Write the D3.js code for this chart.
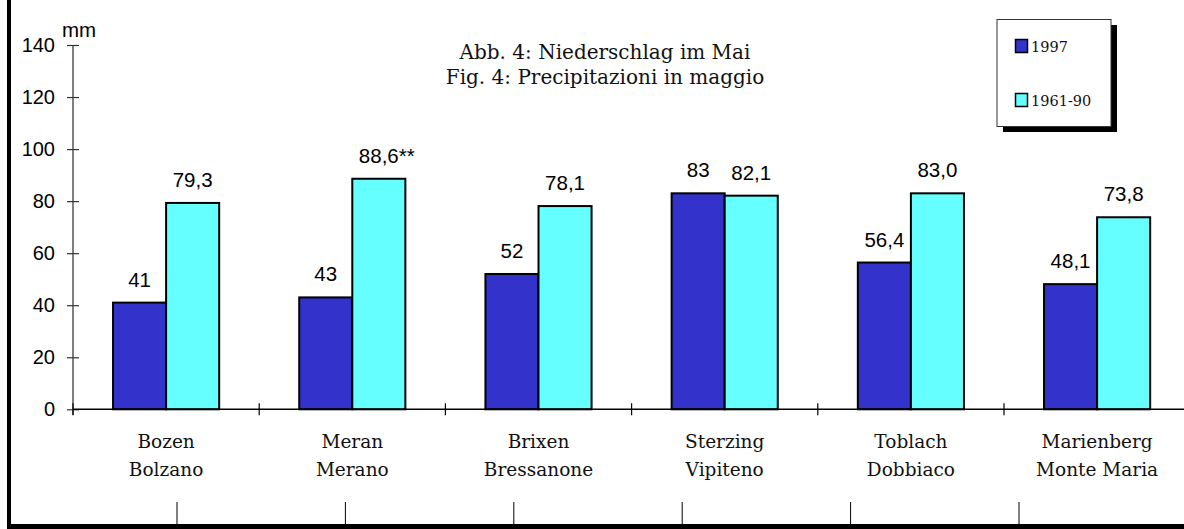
<!DOCTYPE html>
<html>
<head>
<meta charset="utf-8">
<script src="https://cdn.jsdelivr.net/npm/d3@7"></script>
<style>
  body { margin: 0; background: #fff; }
  svg { display: block; }
</style>
</head>
<body>
<svg id="chart"></svg>
<script>
// stations (German / Italian names)
var stationsDe = ["Bozen", "Meran", "Brixen", "Sterzing", "Toblach", "Marienberg"];
var stationsIt = ["Bolzano", "Merano", "Bressanone", "Vipiteno", "Dobbiaco", "Monte Maria"];
var seriesNames = ["1997", "1961-90"];
var values1997 = [41, 43, 52, 83, 56.4, 48.1];
var values6190 = [79.3, 88.6, 78.1, 82.1, 83.0, 73.8];
var labels1997 = ["41", "43", "52", "83", "56,4", "48,1"];
var labels6190 = ["79,3", "88,6", "78,1", "82,1", "83,0", "73,8"];
var notes6190 = ["", "**", "", "", "", ""];
var yTicks = [0, 20, 40, 60, 80, 100, 120, 140];
var titleLines = ["Abb. 4: Niederschlag im Mai", "Fig. 4: Precipitazioni in maggio"];

var width = 1184, height = 529;
var colors = ["#3333cc", "#66ffff"];
var serif = "'DejaVu Serif', serif";
var sans = "'Liberation Sans', Arial, sans-serif";

var svg = d3.select("#chart").attr("width", width).attr("height", height);

var x0 = 73, y0 = 409.3;
var step = 186.2;

var xScale = d3.scaleBand()
    .domain(stationsDe)
    .range([x0, x0 + step * stationsDe.length])
    .paddingInner(0.43)
    .paddingOuter(0.215);
var xSub = d3.scaleBand().domain(seriesNames).range([0, xScale.bandwidth()]);
var yScale = d3.scaleLinear().domain([0, 140]).range([y0, 45]);

// frame
svg.append("rect").attr("x", 7).attr("y", 0).attr("width", 4).attr("height", height).attr("fill", "#000");
svg.append("rect").attr("x", 7).attr("y", 524).attr("width", width).attr("height", 5).attr("fill", "#000");

// bottom separator lines
d3.range(6).forEach(function(i) {
  svg.append("line")
    .attr("x1", 177 + i * 168.4).attr("x2", 177 + i * 168.4)
    .attr("y1", 502).attr("y2", 524)
    .attr("stroke", "#000").attr("stroke-width", 1);
});

// bars
var rows = stationsDe.map(function(s, i) {
  return {
    station: s,
    bars: [
      { key: seriesNames[0], value: values1997[i], label: labels1997[i], note: "" },
      { key: seriesNames[1], value: values6190[i], label: labels6190[i], note: notes6190[i] }
    ]
  };
});

var groups = svg.append("g").selectAll("g")
  .data(rows).enter().append("g")
  .attr("transform", function(d) { return "translate(" + xScale(d.station) + ",0)"; });

groups.selectAll("rect")
  .data(function(d) { return d.bars; })
  .enter().append("rect")
  .attr("x", function(d) { return xSub(d.key); })
  .attr("y", function(d) { return yScale(d.value); })
  .attr("width", xSub.bandwidth())
  .attr("height", function(d) { return y0 - yScale(d.value); })
  .attr("fill", function(d, i) { return colors[i]; })
  .attr("stroke", "#000")
  .attr("stroke-width", 2);

groups.selectAll("text.val")
  .data(function(d) { return d.bars; })
  .enter().append("text")
  .attr("class", "val")
  .attr("x", function(d) { return xSub(d.key) + xSub.bandwidth() / 2; })
  .attr("y", function(d) { return yScale(d.value) - 16; })
  .attr("text-anchor", "middle")
  .style("font-family", sans)
  .style("font-size", "20.5px")
  .text(function(d) { return d.label; })
  .each(function(d) {
    if (d.note) {
      var w = this.getComputedTextLength();
      d3.select(this.parentNode).append("text")
        .attr("x", xSub(d.key) + xSub.bandwidth() / 2 + w / 2)
        .attr("y", yScale(d.value) - 16)
        .style("font-family", sans)
        .style("font-size", "20.5px")
        .text(d.note);
    }
  });

// y axis
var yAxis = svg.append("g")
  .attr("transform", "translate(" + x0 + ",0)")
  .call(d3.axisLeft(yScale).tickValues(yTicks).tickSize(6).tickSizeOuter(0).tickPadding(12));
yAxis.select(".domain").attr("d", "M0,45V415").attr("stroke", "#555").attr("stroke-width", 1.5);
yAxis.selectAll(".tick line").attr("x1", -6).attr("x2", 6).attr("stroke", "#333").attr("stroke-width", 1.2);
yAxis.selectAll(".tick text")
  .style("font-family", sans).style("font-size", "20px").attr("fill", "#000");

svg.append("text").attr("x", 62).attr("y", 37)
  .style("font-family", sans).style("font-size", "20.5px").text("mm");

// x axis
var xTickPos = d3.range(stationsDe.length + 1).map(function(i) { return x0 + i * step; });
svg.append("line").attr("x1", x0).attr("x2", width).attr("y1", y0).attr("y2", y0)
  .attr("stroke", "#000").attr("stroke-width", 1.5);
xTickPos.forEach(function(p) {
  svg.append("line").attr("x1", p).attr("x2", p).attr("y1", y0 - 6).attr("y2", y0 + 6)
    .attr("stroke", "#000").attr("stroke-width", 1.2);
});

var catLabels = svg.append("g").selectAll("text")
  .data(stationsDe).enter().append("text")
  .attr("text-anchor", "middle")
  .style("font-family", serif)
  .style("font-size", "18.5px")
  .attr("fill", "#111");
catLabels.append("tspan")
  .attr("x", function(d) { return xScale(d) + xScale.bandwidth() / 2; })
  .attr("y", 448)
  .text(function(d) { return d; });
catLabels.append("tspan")
  .attr("x", function(d) { return xScale(d) + xScale.bandwidth() / 2; })
  .attr("y", 476)
  .text(function(d, i) { return stationsIt[i]; });

// title
svg.append("g").selectAll("text")
  .data(titleLines).enter().append("text")
  .attr("x", 605)
  .attr("y", function(d, i) { return 59 + i * 25; })
  .attr("text-anchor", "middle")
  .style("font-family", serif)
  .style("font-size", "20px")
  .attr("fill", "#111")
  .text(function(d) { return d; });

// legend
var legend = svg.append("g");
legend.append("rect").attr("x", 1003).attr("y", 25).attr("width", 114).attr("height", 107).attr("fill", "#000");
legend.append("rect").attr("x", 997).attr("y", 19.5).attr("width", 114).attr("height", 107)
  .attr("fill", "#fff").attr("stroke", "#333").attr("stroke-width", 1);
seriesNames.forEach(function(s, i) {
  legend.append("rect").attr("x", 1015.5).attr("y", 39.5 + i * 54).attr("width", 12).attr("height", 13)
    .attr("fill", colors[i]).attr("stroke", "#000").attr("stroke-width", 1.5);
  legend.append("text").attr("x", 1031).attr("y", 52 + i * 54)
    .style("font-family", serif).style("font-size", "14.5px").attr("fill", "#111").text(s);
});
</script>
</body>
</html>
